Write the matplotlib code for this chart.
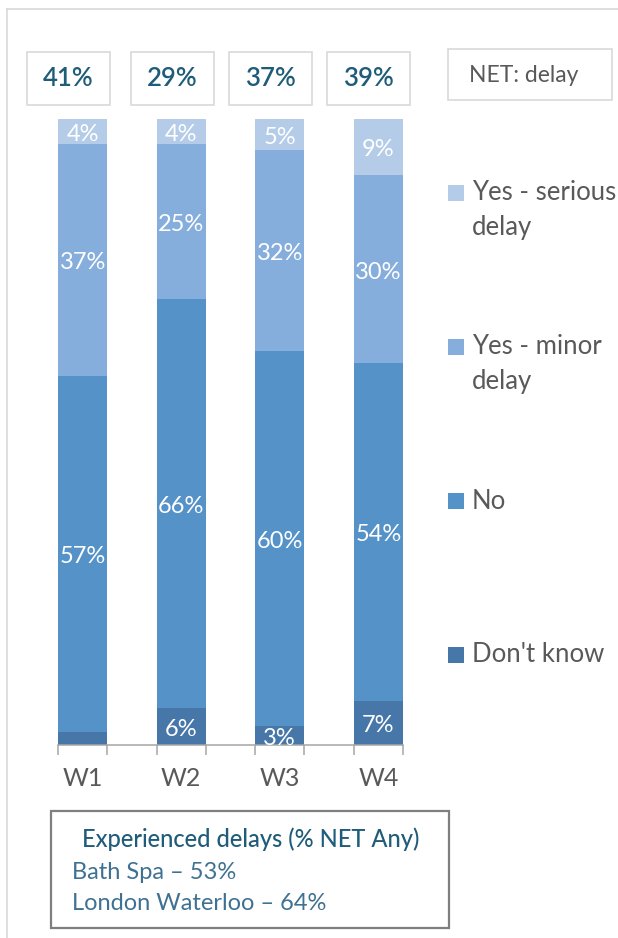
import textwrap

import matplotlib
matplotlib.use("Agg")
import matplotlib.pyplot as plt
from matplotlib.patches import Rectangle
from matplotlib.lines import Line2D

# ---- data -------------------------------------------------------------
waves = ["W1", "W2", "W3", "W4"]
series = ["Don't know", "No", "Yes - minor delay", "Yes - serious delay"]
dont_know = [2, 6, 3, 7]
no_delay = [57, 66, 60, 54]
minor_delay = [37, 25, 32, 30]
serious_delay = [4, 4, 5, 9]
colors = ["#4677A8", "#5592C8", "#86AEDC", "#B4CCE8"]

net_label = "NET: delay"
station_title = "Experienced delays (% NET Any)"
stations = ["Bath Spa", "London Waterloo"]
station_net = [53, 64]

# ---- figure -----------------------------------------------------------
plt.rcParams["font.family"] = ["Lato", "DejaVu Sans"]
W, H = 618, 938
fig = plt.figure(figsize=(W / 100, H / 100), dpi=100)


def fx(x):
    return x / W


def fy(y):
    return 1 - y / H


GREY_TXT = "#595959"
TEAL_DARK = "#1F5C7A"
TEAL = "#3F7192"

# outer frame (top and left edges)
fig.add_artist(Line2D([fx(7), fx(7)], [fy(9), fy(938)], color="#D9D9D9", lw=1.2,
                      transform=fig.transFigure))
fig.add_artist(Line2D([fx(7), fx(618)], [fy(9), fy(9)], color="#D9D9D9", lw=1.2,
                      transform=fig.transFigure))

# ---- stacked bars (100% stacked, one empty slot between waves) --------
ax = fig.add_axes([fx(58), fy(745), fx(403) - fx(58), fy(119) - fy(745)])
stack = [dont_know, no_delay, minor_delay, serious_delay]
totals = [sum(v[i] for v in stack) for i in range(len(waves))]
xpos = [2 * i for i in range(len(waves))]

bottoms = [0.0] * len(waves)
for vals, col in zip(stack, colors):
    shares = [100 * v / t for v, t in zip(vals, totals)]
    ax.bar(xpos, shares, width=1.0, bottom=bottoms, color=col, edgecolor="none")
    for x, b, s, v in zip(xpos, bottoms, shares, vals):
        if v >= 3:
            ax.annotate(f"{v}%", (x, b + s / 2), xytext=(0, -2), textcoords="offset points",
                        ha="center", va="center", color="white", fontsize=17)
    bottoms = [b + s for b, s in zip(bottoms, shares)]

ax.set_xlim(-0.5, 2 * len(waves) - 1.5)
ax.set_ylim(0, 100)
ax.set_xticks(xpos)
ax.set_xticklabels(waves, fontsize=18, color=GREY_TXT)
ax.set_xticks([k - 0.5 for k in range(2 * len(waves))], minor=True)
ax.tick_params(axis="x", which="major", length=0, pad=16)
ax.tick_params(axis="x", which="minor", length=7, width=1.1, color="#A6A6A6")
ax.set_yticks([])
for side in ("top", "right", "left"):
    ax.spines[side].set_visible(False)
ax.spines["bottom"].set_color("#A6A6A6")
ax.spines["bottom"].set_linewidth(1.1)
ax.patch.set_alpha(0)

# ---- NET boxes above the bars ----------------------------------------
net = [m + s for m, s in zip(minor_delay, serious_delay)]
box_left = [27, 131, 229, 327]
for left, v in zip(box_left, net):
    fig.add_artist(Rectangle((fx(left), fy(105)), fx(83), fy(52) - fy(105),
                             transform=fig.transFigure, facecolor="white",
                             edgecolor="#D9D9D9", lw=1.2))
    fig.text(fx(left + 41.5), fy(79), f"{v}%", ha="center", va="center",
             color=TEAL_DARK, fontsize=18.5, fontweight="semibold")

fig.add_artist(Rectangle((fx(448), fy(100)), fx(164), fy(49) - fy(100),
                         transform=fig.transFigure, facecolor="white",
                         edgecolor="#D9D9D9", lw=1.2))
fig.text(fx(469), fy(76), net_label, ha="left", va="center", color=GREY_TXT, fontsize=16.5)

# ---- legend -----------------------------------------------------------
legend_y = [655, 501, 347, 193]
for name, col, y in zip(series, colors, legend_y):
    fig.add_artist(Rectangle((fx(448), fy(y + 8)), fx(16), fy(y - 8) - fy(y + 8),
                             transform=fig.transFigure, facecolor=col, edgecolor="none"))
    for k, line in enumerate(textwrap.wrap(name, 13)):
        fig.text(fx(472), fy(y + 35 * k), line, ha="left", va="center",
                 color=GREY_TXT, fontsize=18.5)

# ---- station summary box ---------------------------------------------
fig.add_artist(Rectangle((fx(51), fy(928)), fx(398), fy(811) - fy(928),
                         transform=fig.transFigure, facecolor="white",
                         edgecolor="#7F7F7F", lw=1.6))
fig.text(fx(251), fy(839), station_title, ha="center", va="center",
         color=TEAL_DARK, fontsize=17, fontweight="medium")
for k, (st, v) in enumerate(zip(stations, station_net)):
    fig.text(fx(72), fy(872 + 31 * k), f"{st} \u2013 {v}%", ha="left", va="center",
             color=TEAL, fontsize=17)

fig.savefig("out.png", dpi=100, facecolor="white")
